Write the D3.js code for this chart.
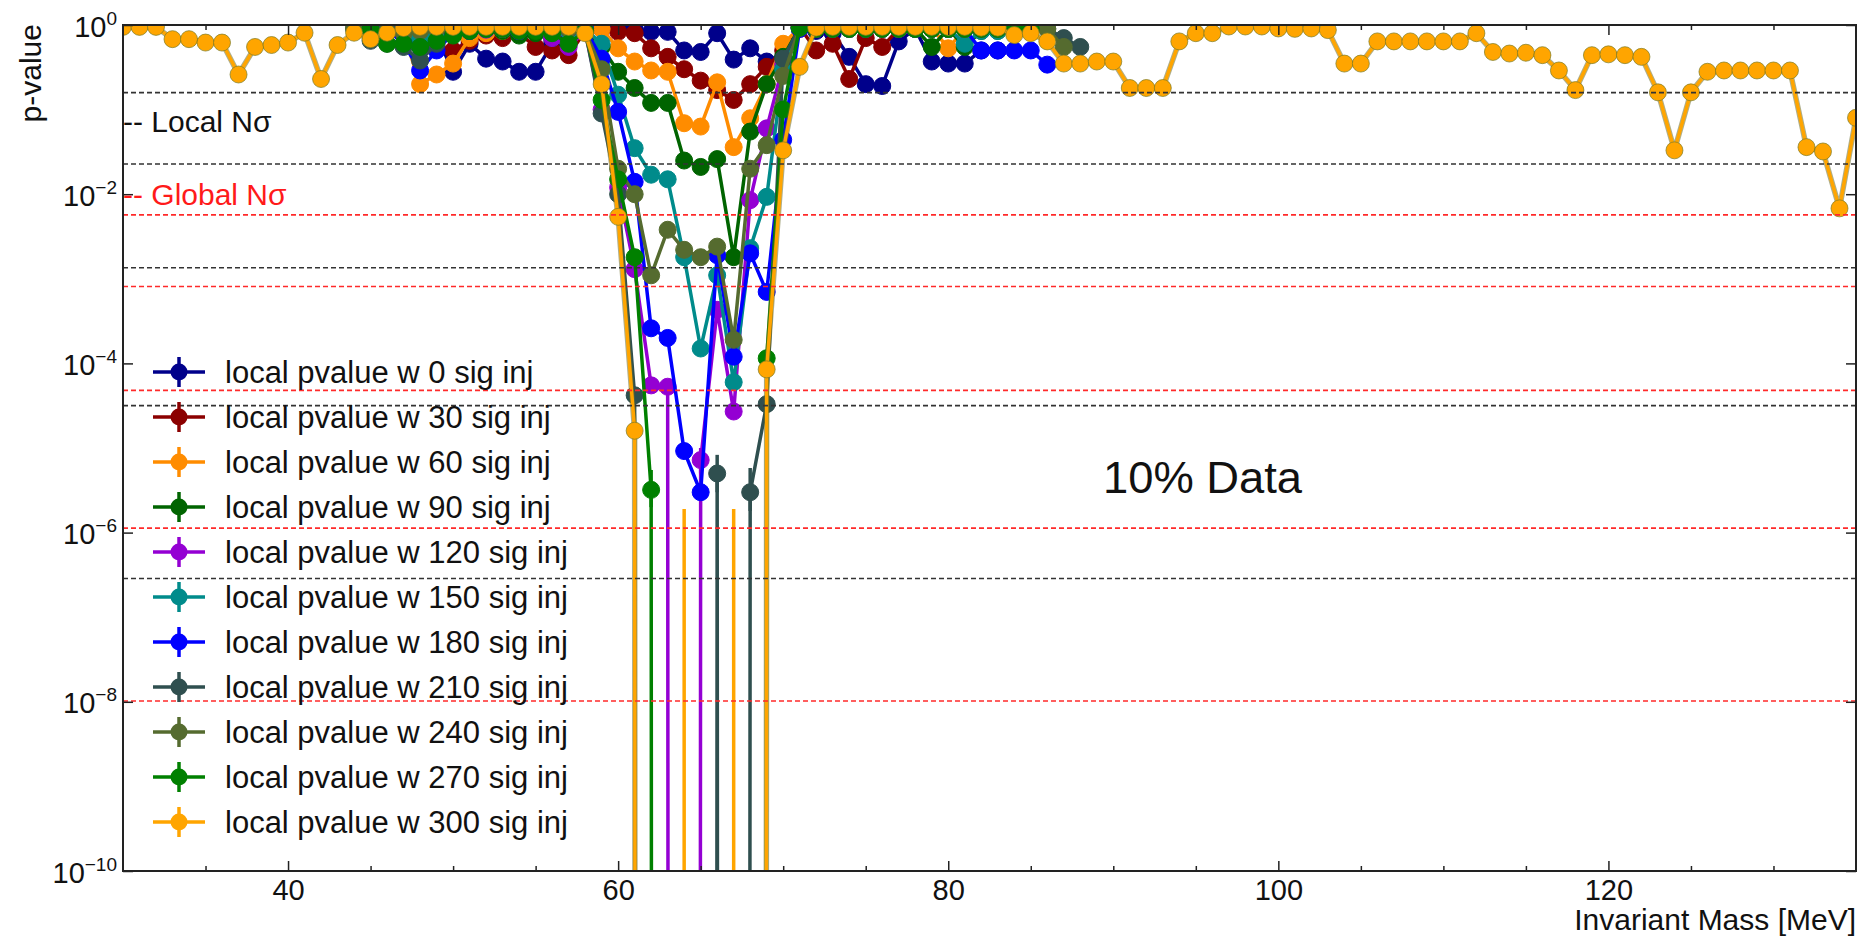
<!DOCTYPE html>
<html><head><meta charset="utf-8">
<script src="https://cdn.jsdelivr.net/npm/d3@7"></script>
<style>
html,body{margin:0;padding:0;background:#fff;}
svg{display:block;font-family:"Liberation Sans",Arial,Helvetica,sans-serif;}
</style></head><body>
<svg id="chart" width="1860" height="936"></svg>
<script>
// ---------------- DATA ----------------
const massAll = [30,31,32,33,34,35,36,37,38,39,40,41,42,43,44,45,46,47,48,49,50,51,52,53,54,55,56,57,58,59,
 60,61,62,63,64,65,66,67,68,69,70,71,72,73,74,75,76,77,78,79,80,81,82,83,84,85,86,87,88,89,
 90,91,92,93,94,95,96,97,98,99,100,101,102,103,104,105,106,107,108,109,110,111,112,113,114,115,116,117,118,119,
 120,121,122,123,124,125,126,127,128,129,130,131,132,133,134,135];
const massSub = [44,45,46,47,48,49,50,51,52,53,54,55,56,57,58,59,60,61,62,63,64,65,66,67,68,69,70,71,72,73,
 74,75,76,77,78,79,80,81,82,83,84,85,86,87,88];

const p0 = [null,null,null,null,0.55,0.75,0.28,0.6,0.4,0.37,0.28,0.28,0.6,0.85,0.9,0.92,0.95,0.9,0.83,0.83,
 0.5,0.48,0.8,0.39,0.53,0.37,0.42,0.9,0.85,0.8,0.42,0.2,0.19,0.64,0.9,0.37,0.35,0.35,0.5,0.5,null,null,null,null,null];
const p30 = [null,null,null,0.9,0.7,0.55,0.5,0.65,0.75,0.7,0.8,0.55,0.5,0.44,0.85,0.9,0.83,0.8,0.53,0.42,
 0.3,0.22,0.17,0.13,0.2,0.32,0.5,0.95,0.5,0.6,0.23,0.7,0.55,0.9,0.93,0.9,0.9,0.9,0.88,0.88,0.85,null,null,null,null];
const p60 = [null,null,null,0.8,0.2,0.26,0.35,0.7,0.8,0.85,0.9,0.85,0.9,0.85,0.9,0.9,0.53,0.37,0.29,0.28,
 0.069,0.063,0.21,0.036,0.079,0.2,0.6,0.93,0.93,0.93,0.93,0.93,0.93,0.93,0.93,0.93,0.53,0.9,0.9,0.88,0.85,null,null,null,null];
const p90 = [null,null,0.9,0.6,0.65,0.75,0.8,0.85,0.9,0.85,0.75,0.8,0.7,0.6,0.85,0.55,0.28,0.18,0.12,0.12,
 0.025,0.021,0.026,0.0018,0.055,0.2,0.42,0.93,0.92,0.92,0.92,0.92,0.92,0.92,0.92,0.55,0.9,0.55,0.85,0.85,0.85,null,null,null,null];
const p120 = [null,null,null,0.85,0.8,0.85,0.9,0.9,0.88,0.9,0.85,0.9,0.7,0.55,0.85,0.1,0.012,0.0013,5.5e-5,5.3e-5,
 0,7.2e-6,4.3e-4,2.7e-5,8.5e-3,0.06,0.34,0.95,0.9,0.9,0.9,0.9,0.9,0.9,0.9,0.9,0.9,0.9,0.9,0.88,null,null,null,null,null];
const p150 = [null,null,0.85,0.9,0.7,0.75,0.85,0.9,0.9,0.9,0.88,0.9,0.9,0.85,0.9,0.6,0.15,0.035,0.017,0.015,
 0.0018,1.5e-4,0.0011,6e-5,0.0023,0.0093,0.3,0.93,0.92,0.92,0.92,0.92,0.92,0.92,0.92,0.92,0.92,0.6,0.85,0.85,0.82,null,null,null,null];
const p180 = [null,null,0.9,0.6,0.29,0.5,0.8,0.85,0.9,0.9,0.85,0.9,0.9,0.9,0.9,0.4,0.094,0.014,2.6e-4,2.0e-4,
 9.2e-6,3.0e-6,0.0019,1.2e-4,0.002,7e-4,0.044,0.9,0.9,0.9,0.9,0.9,0.9,0.9,0.9,0.9,0.9,0.9,0.5,0.5,0.5,0.5,0.34,null,null];
const p210 = [0.9,0.65,0.6,0.55,0.38,0.6,0.85,0.9,0.9,0.9,0.9,0.9,0.9,0.9,0.85,0.09,0.01,4.2e-5,0,0,
 0,0,5e-6,0,3e-6,3.3e-5,0.4,0.93,0.9,0.9,0.9,0.9,0.9,0.9,0.9,0.9,0.9,0.9,0.9,0.9,0.9,0.9,0.9,0.7,0.55];
const p240 = [0.92,0.92,0.85,0.8,0.85,0.9,0.9,0.9,0.9,0.9,0.9,0.9,0.9,0.9,0.85,0.3,0.02,0.01,0.0011,0.0038,
 0.0022,0.0018,0.0024,1.9e-4,0.02,0.038,0.25,0.93,0.9,0.9,0.9,0.9,0.9,0.9,0.9,0.9,0.9,0.9,0.9,0.9,0.9,0.9,0.9,0.55,null];
const p270 = [null,0.9,0.6,0.6,0.55,0.65,0.75,0.85,0.9,0.9,0.85,0.85,0.8,0.6,0.85,0.13,0.015,0.0018,3.2e-6,0,
 0,0,0,0,0,1.15e-4,0.1,0.93,0.9,0.9,0.9,0.9,0.9,0.9,0.9,0.9,0.9,0.9,0.9,0.9,0.9,0.9,null,null,null];
const p300 = [0.95,0.95,0.95,0.68,0.68,0.62,0.62,0.26,0.55,0.58,
 0.62,0.81,0.23,0.58,0.81,0.68,0.81,0.92,0.95,0.95,
 0.95,0.95,0.95,0.95,0.95,0.95,0.95,0.95,0.8,0.2,
 5.4e-3,1.6e-5,0,0,0,0,0,0,0,8.5e-5,
 0.033,0.32,0.93,0.95,0.95,0.95,0.95,0.95,0.95,0.95,
 0.95,0.95,0.93,0.93,0.76,0.8,0.64,0.35,0.35,0.37,
 0.37,0.18,0.18,0.18,0.64,0.8,0.8,0.96,0.96,0.96,
 0.91,0.9,0.91,0.87,0.35,0.35,0.64,0.64,0.64,0.64,
 0.64,0.64,0.8,0.48,0.46,0.47,0.44,0.29,0.17,0.44,
 0.45,0.44,0.42,0.16,0.033,0.16,0.28,0.29,0.29,0.29,
 0.29,0.29,0.036,0.032,6.8e-3,0.08];

const seriesLabels = ["local pvalue w 0 sig inj","local pvalue w 30 sig inj","local pvalue w 60 sig inj",
 "local pvalue w 90 sig inj","local pvalue w 120 sig inj","local pvalue w 150 sig inj","local pvalue w 180 sig inj",
 "local pvalue w 210 sig inj","local pvalue w 240 sig inj","local pvalue w 270 sig inj","local pvalue w 300 sig inj"];
const seriesColors = ["#00008b","#8b0000","#ff8c00","#006400","#9400d3","#008b8b","#0000ff","#2f4f4f","#556b2f","#008000","#ffa500"];
const seriesValues = [p0,p30,p60,p90,p120,p150,p180,p210,p240,p270,p300];
const seriesMasses = [massSub,massSub,massSub,massSub,massSub,massSub,massSub,massSub,massSub,massSub,massAll];

// visible error bars (series index, mass, low, high)
const errSeries = [7,7,9,4,10,10];
const errMass   = [66,68,62,65,64,67];
const errLow    = [3e-6,1.8e-6,2e-6,5e-6,0,0];
const errHigh   = [8.3e-6,5.8e-6,5.5e-6,1.0e-5,1.9e-6,1.9e-6];

// significance lines
const localSigP  = [0.1587,0.02275,0.00135,3.167e-5,2.867e-7];
const globalSigP = [5.7e-3,8.1e-4,4.8e-5,1.13e-6,1.02e-8];

// ticks
const xMajorTicks = [40,60,80,100,120];
const xMinorTicks = [35,45,50,55,65,70,75,85,90,95,105,110,115,125,130];
const yTickValues = [1,1e-2,1e-4,1e-6,1e-8,1e-10];
const yTickSup = ["0","\u22122","\u22124","\u22126","\u22128","\u221210"];

// ---------------- CHART ----------------
const L = 123, R = 1856, T = 25, B = 871;
const svg = d3.select('#chart');
const x = d3.scaleLinear().domain([30,135]).range([L,R]);
const y = d3.scaleLog().domain([1e-10,1]).range([B,T]);
const yPos = p => p > 0 ? y(p) : y(1e-300);

svg.append('defs').append('clipPath').attr('id','plotclip')
  .append('rect').attr('x',L).attr('y',T).attr('width',R-L).attr('height',B-T);

const plot = svg.append('g').attr('clip-path','url(#plotclip)');

const line = d3.line().defined(d => d.p !== null).x(d => x(d.m)).y(d => yPos(d.p));

seriesValues.forEach((vals, i) => {
  const pts = seriesMasses[i].map((m, k) => ({m: m, p: vals[k]}));
  const col = seriesColors[i];
  const g = plot.append('g');
  if (i === 10) {
    g.append('path').datum(pts).attr('d', line).attr('fill','none')
      .attr('stroke','#6b6b2a').attr('stroke-opacity',0.55).attr('stroke-width',5.5).attr('stroke-linejoin','round');
  }
  g.append('path').datum(pts).attr('d', line).attr('fill','none')
    .attr('stroke', col).attr('stroke-width', 3.5).attr('stroke-linejoin','round');
  errSeries.forEach((s, k) => {
    if (s !== i) return;
    g.append('line').attr('x1', x(errMass[k])).attr('x2', x(errMass[k]))
      .attr('y1', yPos(errLow[k])).attr('y2', yPos(errHigh[k]))
      .attr('stroke', col).attr('stroke-width', 3.5);
  });
  g.selectAll('circle').data(pts.filter(d => d.p !== null && d.p > 0)).join('circle')
    .attr('cx', d => x(d.m)).attr('cy', d => y(d.p)).attr('r', 8.5)
    .attr('fill', col)
    .attr('stroke', i === 10 ? '#7a7a25' : col).attr('stroke-opacity', i === 10 ? 0.7 : 1)
    .attr('stroke-width', 1);
});

// significance dashed lines
const sig = svg.append('g');
sig.selectAll('line.loc').data(localSigP).join('line').attr('class','loc')
  .attr('x1', L).attr('x2', R).attr('y1', d => y(d)).attr('y2', d => y(d))
  .attr('stroke','#333').attr('stroke-width',1.6).attr('stroke-dasharray','5,3');
sig.selectAll('line.glob').data(globalSigP).join('line').attr('class','glob')
  .attr('x1', L).attr('x2', R).attr('y1', d => y(d)).attr('y2', d => y(d))
  .attr('stroke','#ff2a2a').attr('stroke-width',1.6).attr('stroke-dasharray','5,3');

// axes
function styleAxis(g){ g.select('.domain').remove(); g.selectAll('.tick line').attr('stroke','#222').attr('stroke-width',1.5); }
const xAxisG = svg.append('g').attr('transform',`translate(0,${B})`)
  .call(d3.axisBottom(x).tickValues(xMajorTicks).tickSize(-10).tickPadding(8).tickFormat(d3.format('d')));
styleAxis(xAxisG);
xAxisG.attr('font-size',29).attr('font-family','"Liberation Sans",Arial,sans-serif');
xAxisG.selectAll('text').attr('fill','#111');
const xMinorG = svg.append('g').attr('transform',`translate(0,${B})`)
  .call(d3.axisBottom(x).tickValues(xMinorTicks).tickSize(-5).tickFormat(''));
styleAxis(xMinorG);
const xTopG = svg.append('g').attr('transform',`translate(0,${T})`)
  .call(d3.axisTop(x).tickValues(xMajorTicks).tickSize(-10).tickFormat(''));
styleAxis(xTopG);
const xTopMinorG = svg.append('g').attr('transform',`translate(0,${T})`)
  .call(d3.axisTop(x).tickValues(xMinorTicks).tickSize(-5).tickFormat(''));
styleAxis(xTopMinorG);

const yAxisG = svg.append('g').attr('transform',`translate(${L},0)`)
  .call(d3.axisLeft(y).tickValues(yTickValues).tickSize(-10).tickPadding(6));
styleAxis(yAxisG);
yAxisG.attr('font-size',29).attr('font-family','"Liberation Sans",Arial,sans-serif');
yAxisG.selectAll('.tick text').each(function(d, k){
  const t = d3.select(this);
  t.text(null).attr('dy', null).attr('y', 11).attr('fill','#111');
  t.append('tspan').text('10');
  t.append('tspan').attr('dy', -12).attr('font-size', 19).text(yTickSup[k]);
});
const yRightG = svg.append('g').attr('transform',`translate(${R},0)`)
  .call(d3.axisRight(y).tickValues(yTickValues).tickSize(-10).tickFormat(''));
styleAxis(yRightG);

// frame
svg.append('rect').attr('x',L).attr('y',T).attr('width',R-L).attr('height',B-T)
  .attr('fill','none').attr('stroke','#222').attr('stroke-width',2);

// axis titles
svg.append('text').attr('x', R).attr('y', 930).attr('text-anchor','end')
  .attr('font-size',30).attr('fill','#111').text('Invariant Mass [MeV]');
svg.append('text').attr('transform','translate(41,24) rotate(-90)').attr('text-anchor','end')
  .attr('font-size',30).attr('fill','#111').text('p-value');

// significance labels
svg.append('text').attr('x', L).attr('y', 132).attr('font-size',30).attr('fill','#111').text('-- Local N\u03c3');
svg.append('text').attr('x', L).attr('y', 205).attr('font-size',30).attr('fill','#ff1a1a').text('-- Global N\u03c3');

// legend
const leg = svg.append('g');
seriesLabels.forEach((lab, i) => {
  const cy = 372 + 45 * i;
  const col = seriesColors[i];
  leg.append('line').attr('x1',153).attr('x2',205).attr('y1',cy).attr('y2',cy).attr('stroke',col).attr('stroke-width',3.5);
  leg.append('line').attr('x1',179).attr('x2',179).attr('y1',cy-15).attr('y2',cy+15).attr('stroke',col).attr('stroke-width',3.5);
  leg.append('circle').attr('cx',179).attr('cy',cy).attr('r',8.5).attr('fill',col);
  leg.append('text').attr('x',225).attr('y',cy+11).attr('font-size',31).attr('fill','#111').text(lab);
});

// annotation
svg.append('text').attr('x',1103).attr('y',493).attr('font-size',44).attr('fill','#111')
  .attr('textLength',199).attr('lengthAdjust','spacingAndGlyphs').text('10% Data');
</script>
</body></html>
